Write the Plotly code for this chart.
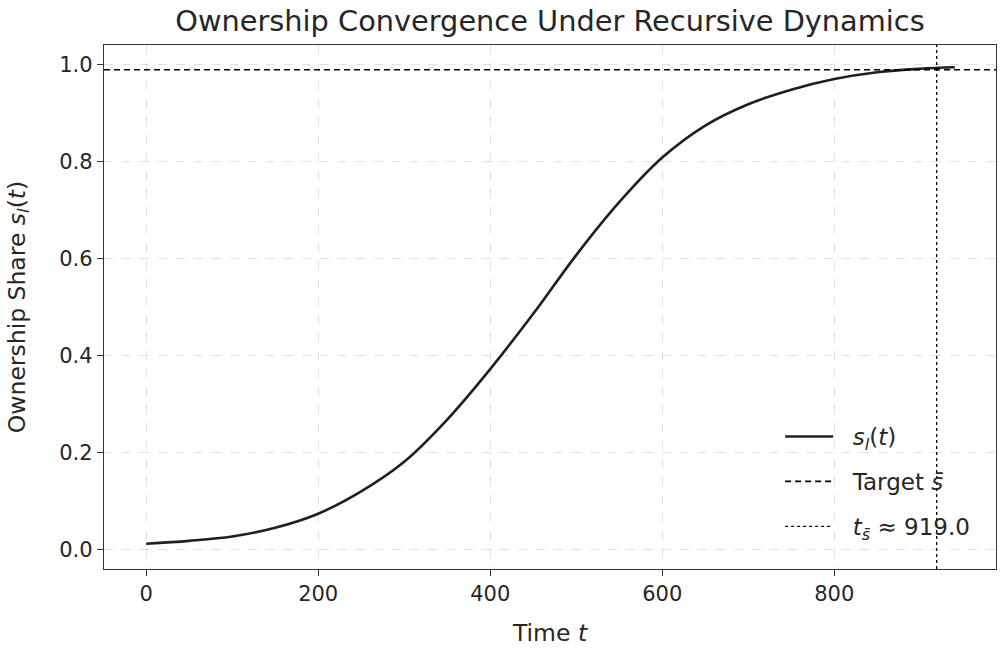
import plotly.graph_objects as go

# Data
t_values = [0, 50, 100, 150, 200, 250, 300, 350, 400, 450, 500, 550, 600,
            650, 700, 750, 800, 850, 900, 940]
share_values = [0.012, 0.018, 0.027, 0.045, 0.074, 0.120, 0.181, 0.268, 0.372,
                0.486, 0.607, 0.716, 0.808, 0.874, 0.918, 0.948, 0.970, 0.984,
                0.991, 0.994]
TARGET = 0.989
T_CONV = 919.0
x_ticks = [0, 200, 400, 600, 800]
y_ticks = [0.0, 0.2, 0.4, 0.6, 0.8, 1.0]

FONT = "DejaVu Sans"
TXT = "#262626"
PAD = "\u00a0\u00a0"

fig = go.Figure()
fig.add_trace(go.Scatter(
    x=t_values, y=share_values, mode="lines",
    line=dict(color="#1f1f1f", width=2.6, shape="spline", smoothing=1.0),
    name=PAD + "<i>s<sub>l</sub></i>(<i>t</i>)", legendgroup="a"))
fig.add_trace(go.Scatter(
    x=[None], y=[None], mode="lines",
    line=dict(color="black", width=1.6, dash="6px,4px"),
    name=PAD + "Target <i>s̄</i>", legendgroup="b"))
fig.add_trace(go.Scatter(
    x=[None], y=[None], mode="lines",
    line=dict(color="black", width=1.3, dash="dot"),
    name=PAD + f"<i>t</i><sub><i>s̄</i></sub> ≈ {T_CONV:.1f}", legendgroup="c"))

fig.add_hline(y=TARGET, line=dict(color="black", width=1.6, dash="6px,4px"))
fig.add_vline(x=T_CONV, line=dict(color="black", width=1.3, dash="dot"))

axis_common = dict(
    showline=True, linecolor="#333333", linewidth=1.3, mirror=True,
    ticks="outside", ticklen=6, tickwidth=1.2, tickcolor="#333333",
    showgrid=True, gridcolor="rgba(170,170,170,0.35)", griddash="dash", gridwidth=1,
    zeroline=False, automargin=False,
    tickfont=dict(family=FONT, size=21, color=TXT),
)

fig.update_layout(
    width=1001, height=650,
    paper_bgcolor="white", plot_bgcolor="white",
    margin=dict(l=104, r=5, t=45, b=81, autoexpand=False),
    title=dict(text="Ownership Convergence Under Recursive Dynamics",
               x=(104 + 996) / 2 / 1001, xanchor="center", y=1 - 21 / 650, yanchor="middle",
               font=dict(family=FONT, size=28.8, color=TXT)),
    xaxis=dict(range=[-49, 988], tickvals=x_ticks,
               title=dict(text="Time <i>t</i>", standoff=19,
                          font=dict(family=FONT, size=23.5, color=TXT)),
               **axis_common),
    yaxis=dict(range=[-0.040, 1.040], tickvals=y_ticks, tickformat=".1f",
               title=dict(text="Ownership Share <i>s<sub>l</sub></i>(<i>t</i>)", standoff=27,
                          font=dict(family=FONT, size=23.5, color=TXT)),
               **axis_common),
    showlegend=True,
    legend=dict(x=0.758, xanchor="left", y=0.040, yanchor="bottom",
                bgcolor="rgba(0,0,0,0)", borderwidth=0,
                font=dict(family=FONT, size=23, color=TXT),
                tracegroupgap=12, itemwidth=48),
)

fig.write_html(
    "out.html",
    config={"displayModeBar": False},
    post_script="document.body.style.margin='0px';document.body.style.overflow='hidden';",
)
